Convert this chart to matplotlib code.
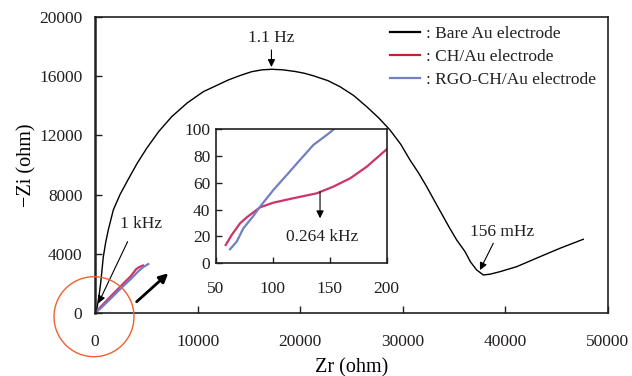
import numpy as np
import matplotlib
matplotlib.use("Agg")
import matplotlib.pyplot as plt
from matplotlib.lines import Line2D
from matplotlib.patches import Ellipse

plt.rcParams['font.family'] = ['Liberation Serif', 'DejaVu Serif']
plt.rcParams['text.color'] = '#231f20'

# Bare Au electrode (Nyquist data, ohm)
bare_zr = [0, 166, 400, 556, 809, 1050, 1296, 1784, 2437, 3216, 4100, 5039,
           6200, 7476, 9000, 10556, 12992, 14200, 15273, 16300, 17222, 18300,
           19493, 20400, 21277, 22700, 23879, 25200, 26481, 27700, 28752,
           29800, 30702, 31550, 32329, 33150, 33948, 34600, 35253, 36062,
           36600, 37203, 37846, 38500, 39474, 41101, 43372, 45322, 47592]
bare_zi = [0, 203, 1200, 2027, 3784, 4800, 5608, 6960, 8000, 9000, 10100, 11129,
           12250, 13264, 14200, 14953, 15744, 16060, 16305, 16430, 16467, 16430,
           16320, 16200, 16030, 15700, 15291, 14700, 13940, 13150, 12365,
           11400, 10338, 9450, 8534, 7500, 6507, 5700, 4933, 4150,
           3450, 2906, 2568, 2620, 2791, 3129, 3804, 4372, 4980]

# CH/Au electrode
ch_zr = [58.5, 63.8, 71.1, 77.0, 88.7, 100.4, 117.9, 138.5, 153.1, 167.8, 182.4, 200,
         400, 1500, 2500, 3500, 4000, 4300, 4680]
ch_zi = [13.5, 21.0, 29.7, 34.2, 41.7, 45.2, 48.5, 52.2, 57.2, 63.4, 72.1, 85.2,
         300, 1100, 1800, 2500, 2950, 3100, 3210]

# RGO-CH/Au electrode
rgo_zr = [62.3, 68.2, 74.0, 82.8, 88.7, 100.4, 112.1, 123.8, 135.5, 147.3, 154.6,
          500, 1500, 2500, 3500, 4200, 4700, 5200]
rgo_zi = [10.3, 16.0, 26.0, 35.2, 42.2, 54.7, 65.9, 77.2, 88.4, 95.9, 100.9,
          280, 950, 1650, 2300, 2800, 3100, 3310]

c_bare = 'black'
c_ch = '#cc3366'
c_rgo = '#7080c0'

fig = plt.figure(figsize=(6.32, 3.76), dpi=100)
ax = fig.add_axes([0.1503, 0.1676, 0.8117, 0.7872])

ax.plot(bare_zr, bare_zi, color=c_bare, lw=1.0)
ax.plot(ch_zr, ch_zi, color=c_ch, lw=1.6)
ax.plot(rgo_zr, rgo_zi, color=c_rgo, lw=1.6)

ax.set_xlim(0, 50000)
ax.set_ylim(0, 20000)
ax.set_xticks(np.arange(0, 50001, 10000))
ax.set_yticks(np.arange(0, 20001, 4000))
ax.tick_params(direction='in', length=5, width=1, labelsize=12.5, colors='#231f20')
ax.tick_params(axis='y', pad=9)
ax.tick_params(axis='x', pad=15)
for s in ax.spines.values():
    s.set_linewidth(1.2)
    s.set_color('#231f20')
ax.spines['left'].set_linewidth(1.8)
ax.set_xlabel('Zr (ohm)', fontsize=14.5, labelpad=6)
ax.set_ylabel('\u2212Zi (ohm)', fontsize=14.5, labelpad=2)

# annotations on main plot
arrow = dict(arrowstyle='-|>', color='black', lw=0.8, mutation_scale=11,
             shrinkA=0, shrinkB=0)
ax.text(17200, 18600, '1.1 Hz', ha='center', va='center', fontsize=12.5)
ax.annotate('', xy=(17200, 16620), xytext=(17200, 17770), arrowprops=arrow)
ax.text(4480, 6000, '1 kHz', ha='center', va='center', fontsize=12.5)
ax.annotate('', xy=(320, 650), xytext=(3180, 4820), arrowprops=arrow)
ax.text(39640, 5470, '156 mHz', ha='center', va='center', fontsize=12.5)
ax.annotate('', xy=(37520, 2900), xytext=(38820, 4710), arrowprops=arrow)
ax.annotate('', xy=(7140, 2680), xytext=(4060, 760),
            arrowprops=dict(arrowstyle='-|>', color='black', lw=2.0,
                            mutation_scale=13, shrinkA=0, shrinkB=0))

handles = [Line2D([], [], color='black', lw=1.6),
           Line2D([], [], color='#c8202e', lw=1.6),
           Line2D([], [], color=c_rgo, lw=1.6)]
labels = [': Bare Au electrode', ': CH/Au electrode', ': RGO-CH/Au electrode']
fig.legend(handles, labels, loc='upper left', bbox_to_anchor=(0.617, 0.931),
           frameon=False, fontsize=12.5, handlelength=1.75, handletextpad=0.3,
           labelspacing=0.4, borderpad=0, borderaxespad=0)

# orange circle around the origin
fig.patches.append(Ellipse((94 / 632, 1 - 316.7 / 376), 80 / 632, 80 / 376,
                           transform=fig.transFigure, fill=False,
                           edgecolor='#f06030', lw=1.0, zorder=5))

# inset
ins = fig.add_axes([0.3418, 0.3005, 0.2701, 0.3551])
ins.plot(ch_zr, ch_zi, color=c_ch, lw=1.6)
ins.plot(rgo_zr, rgo_zi, color=c_rgo, lw=1.6)
ins.set_xlim(50, 200)
ins.set_ylim(0, 100)
ins.set_xticks([50, 100, 150, 200])
ins.set_yticks(np.arange(0, 101, 20))
ins.tick_params(direction='in', length=4, width=1, labelsize=12.5, colors='#231f20')
ins.tick_params(axis='x', pad=13)
ins.tick_params(axis='y', pad=4)
for s in ins.spines.values():
    s.set_linewidth(1.2)
    s.set_color('#231f20')
ins.text(143, 19.5, '0.264 kHz', ha='center', va='center', fontsize=12.5)
ins.annotate('', xy=(141.4, 33.5), xytext=(141.4, 53.4), arrowprops=arrow)

fig.savefig('out.png', dpi=100)
